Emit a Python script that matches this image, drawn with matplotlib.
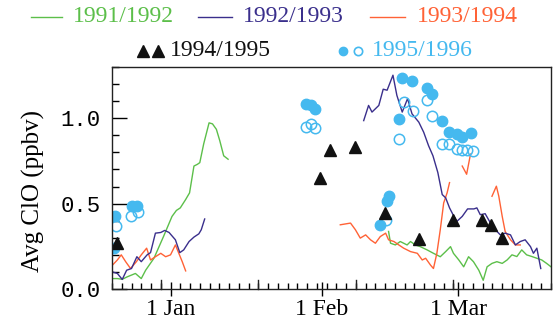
import numpy as np
import matplotlib.pyplot as plt
from matplotlib.lines import Line2D

# days counted from 1 Jan (negative = December)
green1_x = [-11.9, -10.9, -9.9, -8.9, -7.2, -6.0, -5.1, -3.4, -1.4, 0.3, 1.2, 2.0, 3.1, 3.9,
            4.8, 5.5, 6.0, 6.8, 7.9, 8.6, 9.4, 10.1, 10.9, 11.8]
green1_y = [0.061, 0.061, 0.057, 0.071, 0.091, 0.061, 0.11, 0.18, 0.31, 0.425, 0.46, 0.475, 0.524, 0.563,
            0.72, 0.73, 0.74, 0.85, 0.973, 0.967, 0.935, 0.868, 0.78, 0.76]
green2_x = [44.7, 45.1, 46.1, 47.1, 48.5, 49.2, 50.2, 51.2, 52.6, 53.9, 55.3, 56.4, 57.4, 58.0,
            59.1, 60.1, 61.1, 62.1, 63.2, 64.1, 64.9, 65.9, 66.9, 68.0, 69.0, 70.0, 71.0, 72.0,
            73.0, 74.1, 75.1, 76.1, 77.1, 78.0]
green2_y = [0.337, 0.268, 0.258, 0.278, 0.258, 0.278, 0.258, 0.248, 0.229, 0.209, 0.189, 0.219, 0.248, 0.209,
            0.17, 0.13, 0.189, 0.16, 0.11, 0.051, 0.13, 0.15, 0.16, 0.15, 0.17, 0.2, 0.19, 0.229,
            0.2, 0.19, 0.18, 0.17, 0.15, 0.13]

navy1_x = [-11.9, -10.9, -9.9, -9.0, -8.0, -6.9, -6.0, -4.8, -4.1, -3.1, -2.0, -1.2, -0.3, 1.0,
           1.9, 2.7, 3.8, 4.8, 5.8, 6.3, 7.0]
navy1_y = [0.10, 0.091, 0.056, 0.11, 0.12, 0.189, 0.16, 0.20, 0.213, 0.327, 0.331, 0.343, 0.331, 0.288,
           0.213, 0.229, 0.278, 0.304, 0.323, 0.347, 0.41]
navy2_x = [39.6, 40.6, 41.3, 42.7, 43.6, 44.4, 45.6, 46.4, 47.5, 48.6, 49.5, 50.9, 51.9, 52.9,
           53.8, 54.8, 55.7, 56.4, 57.2, 58.1, 58.7, 59.8, 60.9, 62.2, 62.8, 63.5, 64.5, 65.6,
           66.6, 67.6, 68.6, 69.7, 70.7, 71.7, 72.7, 73.8, 74.4, 75.1, 75.9]
navy2_y = [0.986, 1.075, 1.036, 1.075, 1.17, 1.164, 1.252, 1.134, 1.036, 1.115, 1.026, 0.977, 0.918, 0.839,
           0.78, 0.682, 0.553, 0.534, 0.475, 0.425, 0.396, 0.425, 0.469, 0.469, 0.475, 0.435, 0.441, 0.386,
           0.347, 0.317, 0.327, 0.317, 0.258, 0.278, 0.288, 0.248, 0.209, 0.239, 0.12]

orange1_x = [-11.9, -10.9, -10.1, -9.2, -8.2, -7.0, -6.0, -4.9, -4.1, -3.1, -2.0, -1.0, 0.0, 1.0,
             1.7, 2.4, 3.1]
orange1_y = [0.14, 0.17, 0.20, 0.16, 0.12, 0.16, 0.20, 0.239, 0.17, 0.189, 0.209, 0.189, 0.20, 0.258,
             0.209, 0.16, 0.106]
orange2_x = [34.8, 36.9, 37.9, 38.9, 40.0, 41.0, 42.0, 43.0, 44.1, 44.7, 45.8, 46.8, 47.8, 49.2,
             50.6, 51.6, 52.3, 53.3, 53.9, 54.6, 55.3, 56.0, 56.7, 57.2]
orange2_y = [0.376, 0.386, 0.347, 0.298, 0.317, 0.288, 0.268, 0.307, 0.327, 0.288, 0.278, 0.258, 0.239, 0.219,
             0.209, 0.17, 0.18, 0.14, 0.12, 0.209, 0.347, 0.504, 0.563, 0.623]
orange3_x = [59.8, 60.7, 61.5]
orange3_y = [0.72, 0.672, 0.79]
orange4_x = [65.9, 66.8, 67.3, 68.0, 68.6, 69.7, 70.7, 71.7]
orange4_y = [0.543, 0.602, 0.543, 0.425, 0.337, 0.288, 0.258, 0.258]

tri_x = [-10.9, 30.7, 32.6, 37.8, 43.9, 50.9, 57.9, 63.9, 65.6, 68.0]
tri_y = [0.272, 0.648, 0.815, 0.829, 0.445, 0.292, 0.406, 0.406, 0.376, 0.298]

fill_x = [-11.6, -11.3, -7.8, -6.8, 27.7, 28.7, 29.7, 43.0, 44.4, 44.7, 46.8, 47.5, 49.5, 52.6,
          53.6, 55.7, 57.0, 58.7, 59.8, 61.5]
fill_y = [0.239, 0.425, 0.484, 0.488, 1.085, 1.075, 1.056, 0.376, 0.514, 0.543, 0.996, 1.233, 1.217, 1.178,
          1.144, 0.986, 0.918, 0.908, 0.888, 0.914]
open_x = [-11.1, -8.1, -6.7, 27.7, 28.7, 29.7, 44.1, 46.8, 47.8, 49.7, 52.6, 53.6, 55.7, 57.0,
          58.7, 59.8, 60.8, 62.0]
open_y = [0.366, 0.425, 0.449, 0.947, 0.967, 0.941, 0.406, 0.878, 1.095, 1.045, 1.105, 1.012, 0.849, 0.849,
          0.819, 0.815, 0.815, 0.809]

GREEN = '#5cbf4a'
NAVY = '#3a2f8c'
ORANGE = '#ff6236'
BLUE = '#45b9ef'

fig = plt.figure(figsize=(5.55, 3.29), dpi=100)
ax = fig.add_axes([112 / 555, 1 - 289 / 329, 439 / 555, 222 / 329])

lw = 1.0
ax.plot(green1_x, green1_y, color=GREEN, lw=lw)
ax.plot(green2_x, green2_y, color=GREEN, lw=lw)
ax.plot(orange1_x, orange1_y, color=ORANGE, lw=lw)
ax.plot(orange2_x, orange2_y, color=ORANGE, lw=lw)
ax.plot(orange3_x, orange3_y, color=ORANGE, lw=lw)
ax.plot(orange4_x, orange4_y, color=ORANGE, lw=lw)
ax.plot(navy1_x, navy1_y, color=NAVY, lw=lw)
ax.plot(navy2_x, navy2_y, color=NAVY, lw=lw)

ax.plot(fill_x, fill_y, 'o', color=BLUE, ms=7.5, mec=BLUE, ls='none')
ax.plot(open_x, open_y, 'o', mfc='none', mec=BLUE, mew=1.1, ms=7.5, ls='none')
ax.plot(tri_x, tri_y, '^', color='#111111', ms=9, ls='none')

ax.set_xlim(-12, 78)
ax.set_ylim(0, 1.3)

# x ticks
ax.set_xticks([0, 31, 59])
ax.set_xticklabels(['1 Jan', '1 Feb', '1 Mar'], family='Liberation Serif', fontsize=17)
ax.set_xticks(np.arange(-12, 79, 2), minor=True)
ax.tick_params(axis='x', which='major', direction='inout', length=10, width=1, pad=2)
ax.tick_params(axis='x', which='minor', direction='in', length=4, width=1)
tr = ax.get_xaxis_transform()
for d in [-2, 18, 38, 58]:
    ax.plot([d, d], [0, 9 / 222], color='#222222', lw=1, transform=tr, clip_on=False)

# y ticks
ax.set_yticks([0, 0.5, 1.0])
ax.set_yticklabels(['0.0', '0.5', '1.0'], family='Liberation Mono', fontsize=16)
ax.set_yticks(np.arange(0, 1.31, 0.1), minor=True)
ax.tick_params(axis='y', which='major', direction='in', length=11, width=1, pad=8)
ax.tick_params(axis='y', which='minor', direction='in', length=5, width=1)
ax.set_ylabel('Avg ClO (ppbv)', family='Liberation Serif', fontsize=18)
ax.yaxis.set_label_coords(-0.153, 0.44)

for s in ax.spines.values():
    s.set_color('#222222')
    s.set_linewidth(1)

# legend drawn by hand
def fx(px):
    return px / 555

def fy(py):
    return 1 - py / 329

lfont = dict(family='Liberation Serif', fontsize=17, va='center')
for x0, x1, tx, col, lab in [(31, 62, 73, GREEN, '1991/1992'),
                             (198, 232, 243, NAVY, '1992/1993'),
                             (370, 405, 417, ORANGE, '1993/1994')]:
    fig.add_artist(Line2D([fx(x0), fx(x1)], [fy(17), fy(17)], color=col, lw=1, transform=fig.transFigure))
    fig.text(fx(tx), fy(17), lab, color=col, **lfont)

fig.add_artist(Line2D([fx(143), fx(158)], [fy(51), fy(51)], ls='none', marker='^', ms=8,
                      color='#111111', transform=fig.transFigure))
fig.text(fx(170), fy(51), '1994/1995', color='#111111', **lfont)
fig.add_artist(Line2D([fx(343)], [fy(51)], ls='none', marker='o', ms=6, color=BLUE,
                      transform=fig.transFigure))
fig.add_artist(Line2D([fx(358)], [fy(51)], ls='none', marker='o', ms=6, mfc='none', mec=BLUE,
                      mew=1.2, transform=fig.transFigure))
fig.text(fx(372), fy(51), '1995/1996', color=BLUE, **lfont)

fig.savefig('out.png', dpi=100)
